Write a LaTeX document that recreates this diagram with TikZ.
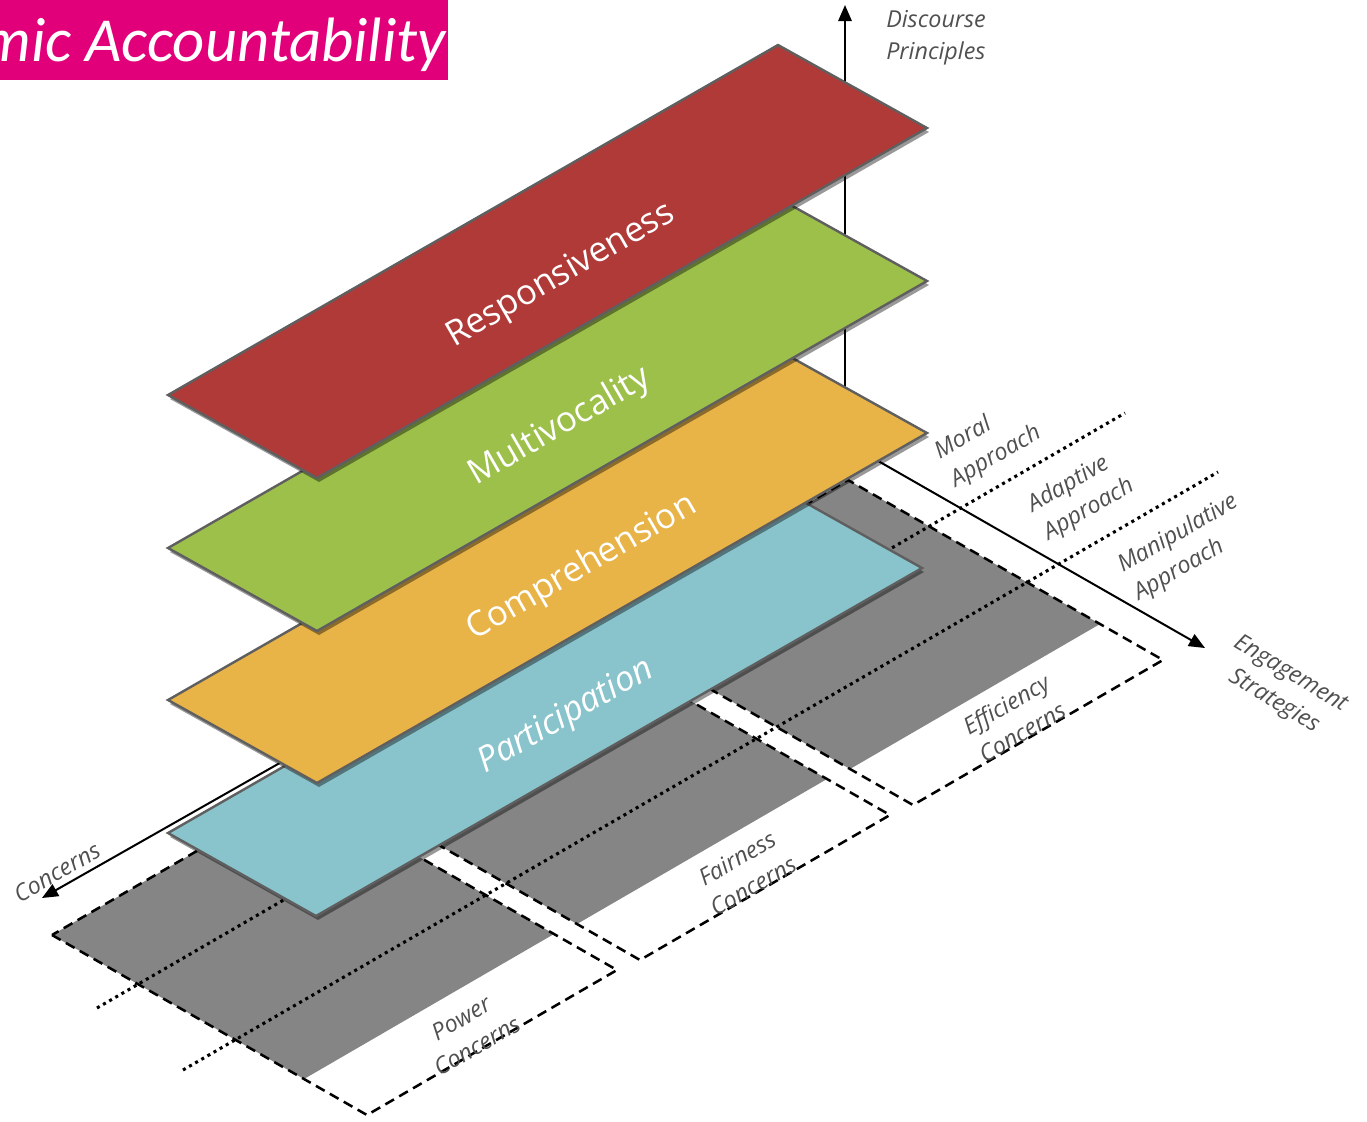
\documentclass[tikz,border=0pt]{standalone}
\usepackage{fontspec}
\setmainfont{Open Sans}
\newfontfamily\titlefont{Carlito}
\usetikzlibrary{shadows,arrows.meta}
\definecolor{redc}{RGB}{176,58,56}
\definecolor{greenc}{RGB}{157,192,75}
\definecolor{orangec}{RGB}{232,179,71}
\definecolor{bluec}{RGB}{137,196,205}
\definecolor{floorc}{RGB}{133,133,133}
\definecolor{titlec}{RGB}{226,0,122}
\definecolor{labelc}{RGB}{80,80,80}
\definecolor{edgec}{RGB}{95,95,95}
\tikzset{
  layerbox/.style={draw=edgec, line width=1.8pt, line join=miter,
    drop shadow={shadow xshift=1.5pt, shadow yshift=-3pt, opacity=0.4, fill=black}},
  layerlabel/.style={text=white, font=\fontsize{26}{30}\selectfont, rotate=30, inner sep=0pt},
  floorfill/.style={fill=floorc},
  dashedges/.style={draw=black, line width=1.9pt, dash pattern=on 7.5pt off 4.5pt},
  dotline/.style={draw=black, line width=2.3pt, dash pattern=on 2.3pt off 3pt},
  axisline/.style={draw=black, line width=1.5pt, -{Triangle[length=12pt,width=10pt]}},
  smalllabel/.style={text=labelc, font=\fontsize{17.5}{24}\selectfont\itshape, inner sep=0pt},
}
\begin{document}
\begin{tikzpicture}[x=0.75pt,y=-0.75pt]
\useasboundingbox (0,0) rectangle (1367,1121);
% floor strips
\foreach \px/\py/\nm in {52/935/pow, 325/780/fair, 598/625/eff}{
  \path[floorfill] (\px,\py) -- ++(250,-145) -- ++(252,144) -- ++(-250,145) -- cycle;
  \path[dashedges] (\px,\py) coordinate (\nm a) -- ++(315,180) coordinate (\nm b)
     -- ++(250,-145) coordinate (\nm c) -- ++(-315,-180) coordinate (\nm d) -- cycle;
}
% dotted approach boundaries
\coordinate (d1a) at (97,1008);
\coordinate (d1b) at (1125,413);
\coordinate (d2a) at (183,1070);
\coordinate (d2b) at (1218,472);
\draw[dotline] (d1a) -- (d1b);
\draw[dotline] (d2a) -- (d2b);
% axes
\coordinate (O) at (845,442);
\coordinate (up) at (845,5);
\coordinate (eng) at (1205,648);
\coordinate (con) at (42,898);
\draw[axisline] (O) -- (up);
\draw[axisline] (O) -- (eng);
\draw[axisline] (O) -- (con);
% layers
\path[layerbox, fill=bluec] (168,833) -- ++(606,-348) -- ++(148,83) -- ++(-606,348) -- cycle;
\node[layerlabel] (lp) at (566,717) {\itshape Participation};
\path[layerbox, fill=orangec] (168,700) -- ++(610,-350) -- ++(149,83) -- ++(-610,350) -- cycle;
\node[layerlabel] (lc) at (582,568) {Comprehension};
\path[layerbox, fill=greenc] (168,548) -- ++(610,-350) -- ++(149,83) -- ++(-610,350) -- cycle;
\node[layerlabel] (lm) at (560,427) {Multivocality};
\path[layerbox, fill=redc] (168,395) -- ++(610,-350) -- ++(149,83) -- ++(-610,350) -- cycle;
\node[layerlabel] (lr) at (561,276) {Responsiveness};
% labels
\node[smalllabel, align=left, anchor=north west] (disc) at (886,10) {Discourse\\Principles};
\node[smalllabel, align=center, rotate=-31] (engl) at (1282,688) {Engagement\\Strategies};
\node[smalllabel, rotate=30] (conl) at (57,872) {Concerns};
\node[smalllabel, align=left, rotate=30] (moral) at (988,443) {Moral\\Approach};
\node[smalllabel, align=left, rotate=30] (adapt) at (1081,496) {Adaptive\\Approach};
\node[smalllabel, align=left, rotate=30] (manip) at (1186,548) {Manipulative\\Approach};
\node[smalllabel, align=center, rotate=30] (powl) at (469,1032) {Power\\Concerns};
\node[smalllabel, align=center, rotate=30] (fairl) at (745,872) {Fairness\\Concerns};
\node[smalllabel, align=center, rotate=30] (effl) at (1014,718) {Efficiency\\Concerns};
% title
\path[fill=titlec] (0,0) rectangle (448,80);
\node[text=white, font=\titlefont\itshape\fontsize{47}{52}\selectfont, anchor=base east, inner sep=0pt] (title) at (446,61) {mic Accountability};
\end{tikzpicture}
\end{document}
